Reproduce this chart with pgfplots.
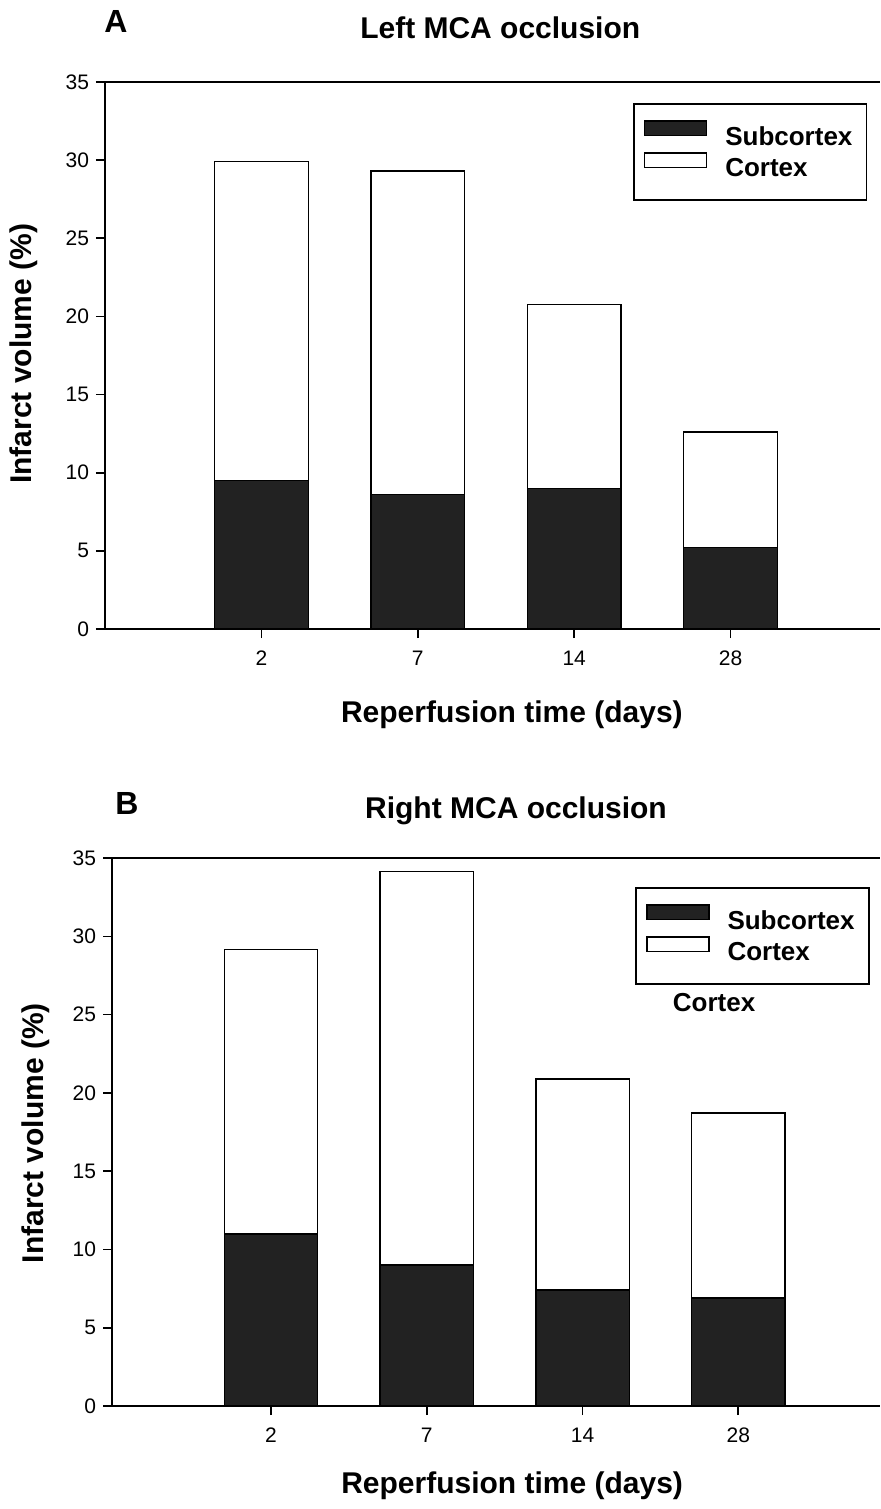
\documentclass[border=0pt]{standalone}
\usepackage{fontspec}
\setmainfont{Liberation Sans}
\usepackage{pgfplots}
\usepackage{pgfplotstable}
\pgfplotsset{compat=1.18}

\pgfplotstableread{
x sub cortex
0 9.5 20.4
1 8.6 20.7
2 9.0 11.75
3 5.2 7.4
}\dataA
\pgfplotstableread{
x sub cortex
0 11.0 18.15
1 9.0 25.15
2 7.4 13.5
3 6.9 11.8
}\dataB

\definecolor{barblack}{HTML}{222222}

\pgfplotsset{
  panel/.style={
    scale only axis,
    ybar stacked,
    bar width=0.6,
    ymin=0, ymax=35,
    ytick={0,5,...,35},
    xtick={0,1,2,3},
    xticklabels={2,7,14,28},
    axis x line*=bottom,
    axis y line*=left,
    axis line style={line width=1pt},
    tick align=outside,
    major tick length=4.5pt,
    tick style={line width=0.8pt, black},
    /pgf/number format/assume math mode=true,
    tick label style={font=\fontsize{10.5}{12}\selectfont},
    xticklabel style={yshift=-3pt},
    label style={font=\fontsize{15}{18}\selectfont\bfseries},
    every axis title shift=0pt,
    title style={font=\fontsize{15}{18}\selectfont\bfseries},
    clip=false,
    legend cell align=left,
    legend style={draw=black, line width=0.9pt, anchor=north west,
      font=\fontsize{13}{15}\selectfont\bfseries,
      inner xsep=5pt, inner ysep=8pt, row sep=0pt,
      /tikz/every odd column/.append style={column sep=7pt}},
    every axis plot post/.append style={
      legend image code/.code={\draw[##1, line width=0.8pt] (0pt,0.8pt) rectangle (31pt,8.2pt);}},
  },
}

\begin{document}
\begin{tikzpicture}
\path[use as bounding box] (0,0) rectangle (440pt,-754.5pt);

% Panel A
\begin{axis}[panel,
  at={(52.5pt,-314.5pt)}, anchor=south west,
  width=387.5pt, height=273.5pt,
  xmin=-1, xmax=3.955,
  title={Left MCA occlusion},
  title style={at={(axis description cs:0.51,1.099)}, anchor=center},
  xlabel={Reperfusion time (days)},
  xlabel style={at={(axis description cs:0.525,-0.157)}, anchor=center},
  ylabel={Infarct volume (\%)},
  ylabel style={at={(axis description cs:-0.1045,0.503)}, anchor=center, rotate=0},
  legend style={at={(0.681,0.9616)}},
]
\addplot[fill=barblack, draw=black, line width=0.75pt] table[x=x, y=sub] {\dataA};
\addplot[fill=white, draw=black, line width=0.75pt] table[x=x, y=cortex] {\dataA};
\legend{Subcortex, Cortex}
\draw[line width=1pt] (rel axis cs:0,1) -- (rel axis cs:1,1);
\node[font=\fontsize{16}{18}\selectfont\bfseries] at (axis description cs:0.0142,1.1115) {A};
\end{axis}

% Panel B
\begin{axis}[panel,
  at={(56pt,-703pt)}, anchor=south west,
  width=384pt, height=274pt,
  xmin=-1.021, xmax=3.91,
  title={Right MCA occlusion},
  title style={at={(axis description cs:0.526,1.086)}, anchor=center},
  xlabel={Reperfusion time (days)},
  xlabel style={at={(axis description cs:0.521,-0.146)}, anchor=center},
  ylabel={Infarct volume (\%)},
  ylabel style={at={(axis description cs:-0.099,0.498)}, anchor=center, rotate=0},
  legend style={at={(0.681,0.947)}},
]
\addplot[fill=barblack, draw=black, line width=0.75pt] table[x=x, y=sub] {\dataB};
\addplot[fill=white, draw=black, line width=0.75pt] table[x=x, y=cortex] {\dataB};
\legend{Subcortex, Cortex}
\draw[line width=1pt] (rel axis cs:0,1) -- (rel axis cs:1,1);
\node[font=\fontsize{16}{18}\selectfont\bfseries] at (axis description cs:0.0195,1.100) {B};
\node[font=\fontsize{13}{15}\selectfont\bfseries] at (axis description cs:0.784,0.7354) {Cortex};
\end{axis}
\end{tikzpicture}
\end{document}
